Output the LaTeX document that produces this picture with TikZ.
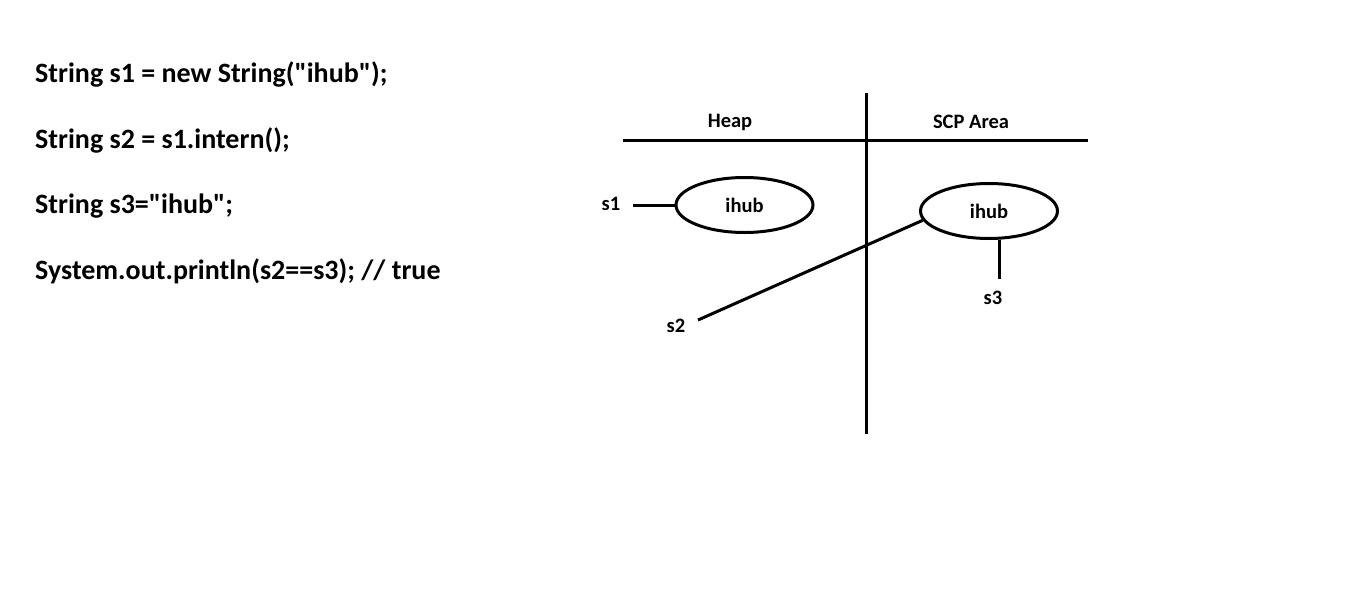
\documentclass[tikz,border=0pt]{standalone}
\usepackage{fontspec}
\setmainfont{Carlito}[Ligatures=TeXOff]
\usetikzlibrary{shapes.geometric}
\begin{document}
\begin{tikzpicture}[x=1pt,y=-1pt,
  code/.style={anchor=west,inner sep=0pt,font=\bfseries\fontsize{28}{32}\selectfont},
  lbl/.style={inner sep=0pt,font=\bfseries\fontsize{20.5}{24}\selectfont},
  obj/.style={draw,line width=3pt,ellipse,minimum width=137pt,minimum height=55pt,inner sep=0pt,font=\bfseries\fontsize{20.5}{24}\selectfont},
  ln/.style={line width=3pt}]
\useasboundingbox (0,0) rectangle (1360,613);
\node[code] (c1) at (35,74) {String s1 = new String("ihub");};
\node[code] (c2) at (35,140) {String s2 = s1.intern();};
\node[code] (c3) at (35,206) {String s3="ihub";};
\node[code] (c4) at (35,271) {System.out.println(s2==s3); // true};
\coordinate (vt) at (866,93);
\coordinate (vb) at (866,434);
\coordinate (hl) at (623,140);
\coordinate (hr) at (1088,140);
\draw[ln] (vt) -- (vb);
\draw[ln] (hl) -- (hr);
\node[lbl] (heap) at (730,122) {Heap};
\node[lbl] (scp) at (971,122) {SCP Area};
\node[obj] (o1) at (744.5,205) {ihub};
\node[obj] (o2) at (989,211) {ihub};
\node[lbl] (s1) at (611,204) {s1};
\node[lbl] (s2) at (676,326) {s2};
\node[lbl] (s3) at (993,298) {s3};
\coordinate (s1e) at (633,205);
\coordinate (s2e) at (698,320);
\coordinate (s3e) at (999,279);
\draw[ln] (s1e) -- (o1.west);
\draw[ln] (s2e) -- (o2.188);
\draw[ln] (s3e) -- (o2.south -| s3e);
\end{tikzpicture}
\end{document}
